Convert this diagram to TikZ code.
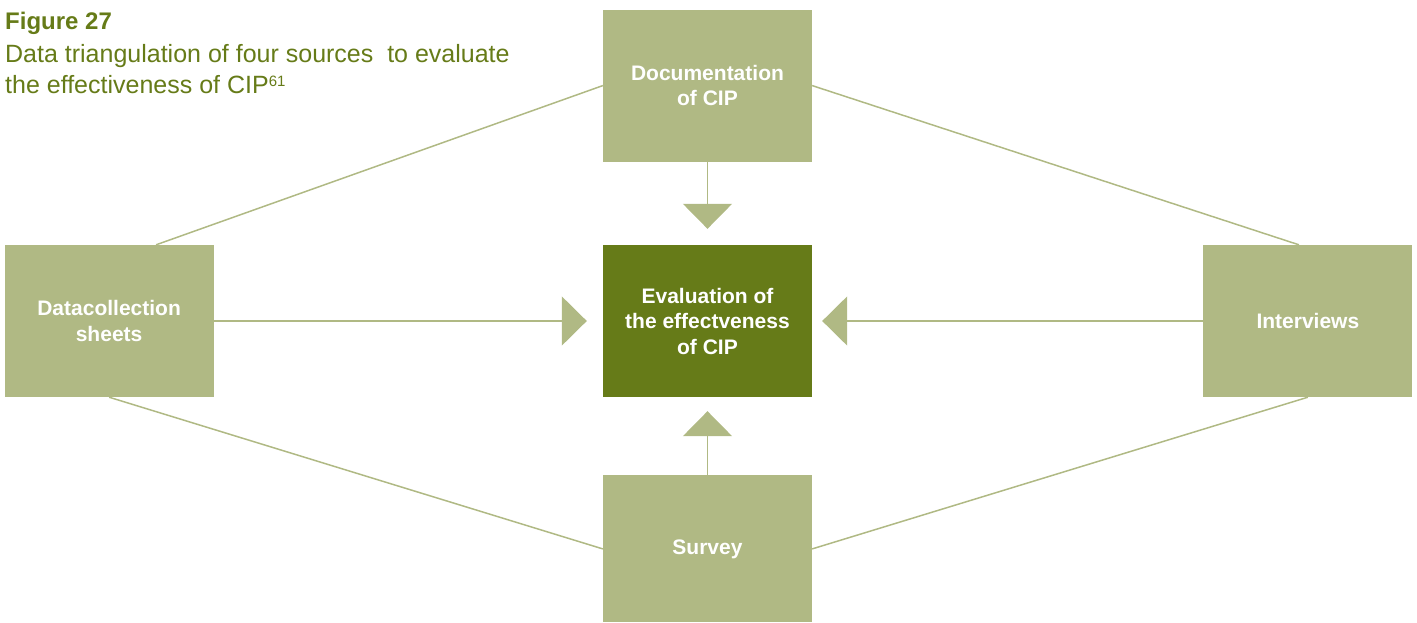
\documentclass[tikz,border=0pt]{standalone}
\usepackage{fontspec}
\setmainfont{Liberation Sans}
\usepackage{xcolor}
\usepackage{tikz}
\usetikzlibrary{positioning, arrows.meta}

\definecolor{oliveLight}{HTML}{B0B984}
\definecolor{oliveDark}{HTML}{667B18}

\begin{document}
\begin{tikzpicture}[
        x=1pt, y=1pt,
        every node/.style={align=center, inner sep=0pt},
        box/.style={fill=oliveLight, text=white, minimum width=209pt, minimum height=152pt, font=\fontsize{21}{25.5}\selectfont\bfseries},
        mainbox/.style={box, fill=oliveDark},
        link/.style={draw=oliveLight, line width=1.5pt},
        arrow/.style={link, -{Triangle[length=25pt, width=49pt]}, shorten >=16pt},
        figlabel/.style={text=oliveDark, anchor=base west, align=left, font=\fontsize{25}{31}\selectfont}
    ]
    \useasboundingbox (-707.5,-301) rectangle (709.5,321);

    % Nodes
    \node[mainbox] (eval) {Evaluation of\\ the effectveness\\ of CIP};
    \node[box, above=83pt of eval] (docs) {Documentation\\ of CIP};
    \node[box, left=389pt of eval] (sheets) {Datacollection\\ sheets};
    \node[box, right=391pt of eval] (interviews) {Interviews};
    \node[box, below=78pt of eval, minimum height=147pt] (survey) {Survey};

    % Caption
    \node[figlabel, font=\fontsize{24}{31}\selectfont\bfseries] (fignum) at (-702.5,291) {Figure 27};
    \node[figlabel] (figcap) at (-702.5,228) {Data triangulation of four sources \ to evaluate\\ the effectiveness of CIP{\fontsize{15}{15}\selectfont\raisebox{7pt}{61}}};

    % Lines between the sources
    \draw[link] (docs.west) -- ([xshift=47pt]sheets.north);
    \draw[link] (docs.east) -- ([xshift=-9pt]interviews.north);
    \draw[link] (sheets.south) -- (survey.west);
    \draw[link] (interviews.south) -- (survey.east);

    % Arrows into the evaluation
    \draw[arrow] (docs) -- (eval);
    \draw[arrow] (sheets) -- (eval);
    \draw[arrow, shorten >=10pt] (interviews) -- (eval);
    \draw[arrow, shorten >=14pt] (survey) -- (eval);

\end{tikzpicture}
\end{document}
